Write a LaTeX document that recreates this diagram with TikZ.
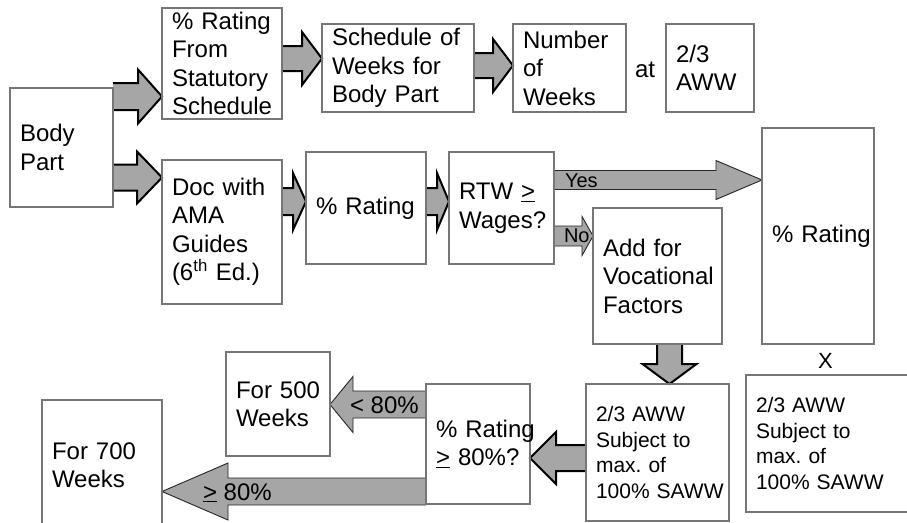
\documentclass[tikz,border=0pt]{standalone}
\usepackage{fontspec}
\setmainfont{Liberation Sans}
\usetikzlibrary{calc}

\definecolor{arrowfill}{RGB}{166,166,166}
\definecolor{boxline}{RGB}{118,118,118}

\hyphenpenalty=10000
\exhyphenpenalty=10000
\frenchspacing

\newcommand\bigfont{\fontsize{24}{28.5}\selectfont}
\newcommand\midfont{\fontsize{21}{25.5}\selectfont}
\newcommand\smallfont{\fontsize{20}{24}\selectfont}

\pgfdeclarelayer{arrows}
\pgfsetlayers{arrows,main}

% Horizontal block arrow.
% #1 outline style, #2 tail point, #3 tip point (only its x is used),
% #4 half shaft width, #5 half head width, #6 head length
\newcommand\harrow[6]{%
  \fill[arrowfill] let \p1=#2, \p2=#3, \n1={2*(\x2>\x1)-1} in
    (\x1,{\y1+#4}) -- ({\x2-\n1*#6},{\y1+#4}) -- ({\x2-\n1*#6},{\y1+#5})
    -- (\x2,\y1) -- ({\x2-\n1*#6},{\y1-#5}) -- ({\x2-\n1*#6},{\y1-#4})
    -- (\x1,{\y1-#4}) -- cycle;
  \draw[#1] let \p1=#2, \p2=#3, \n1={2*(\x2>\x1)-1} in
    (\x1,{\y1+#4}) -- ({\x2-\n1*#6},{\y1+#4}) -- ({\x2-\n1*#6},{\y1+#5})
    -- (\x2,\y1) -- ({\x2-\n1*#6},{\y1-#5}) -- ({\x2-\n1*#6},{\y1-#4})
    -- (\x1,{\y1-#4});
}
% Vertical block arrow, same arguments (tip: only its y is used)
\newcommand\varrow[6]{%
  \fill[arrowfill] let \p1=#2, \p2=#3, \n1={2*(\y2>\y1)-1} in
    ({\x1+#4},\y1) -- ({\x1+#4},{\y2-\n1*#6}) -- ({\x1+#5},{\y2-\n1*#6})
    -- (\x1,\y2) -- ({\x1-#5},{\y2-\n1*#6}) -- ({\x1-#4},{\y2-\n1*#6})
    -- ({\x1-#4},\y1) -- cycle;
  \draw[#1] let \p1=#2, \p2=#3, \n1={2*(\y2>\y1)-1} in
    ({\x1+#4},\y1) -- ({\x1+#4},{\y2-\n1*#6}) -- ({\x1+#5},{\y2-\n1*#6})
    -- (\x1,\y2) -- ({\x1-#5},{\y2-\n1*#6}) -- ({\x1-#4},{\y2-\n1*#6})
    -- ({\x1-#4},\y1);
}

\tikzset{
  box/.style={draw=boxline, line width=1.1pt, inner xsep=10pt, inner ysep=0pt,
    outer sep=0pt, anchor=north west, align=left, font=\bigfont},
  lbl/.style={anchor=base west, inner sep=0pt, outer sep=0pt},
  thickarrow/.style={draw=black, line width=2pt, line join=miter},
  thinarrow/.style={draw=black!85, line width=0.9pt, line join=miter},
}

\begin{document}
\begin{tikzpicture}[x=1pt, y=-1pt]
\useasboundingbox (0,0) rectangle (907,522);
\clip (0,0) rectangle (907,522);

% boxes
\node[box, text width=83pt,  minimum height=119pt] (body)  at (10,88)   {Body\\Part};
\node[box, text width=100pt, minimum height=111pt] (stat)  at (162,8)   {\%~Rating\\From\\Statutory\\Schedule};
\node[box, text width=132pt, minimum height=88pt]  (sched) at (322,24)  {Schedule~of\\Weeks~for\\Body~Part};
\node[box, text width=93pt,  minimum height=88pt]  (num)   at (513,24)  {Number\\of\\Weeks};
\node[box, text width=68pt,  minimum height=88pt]  (awwa)  at (666,24)  {2/3\\AWW};
\node[box, text width=100pt, minimum height=144pt] (doc)   at (162,160) {Doc~with\\AMA\\Guides\\(6\textsuperscript{th}~Ed.)};
\node[box, text width=100pt, minimum height=112pt] (rate1) at (306,152) {\%~Rating};
\node[box, text width=85pt,  minimum height=112pt] (rtw)   at (449,152) {RTW~\underline{>}\\Wages?};
\node[box, text width=109pt, minimum height=136pt] (voc)   at (593,208) {Add~for\\Vocational\\Factors};
\node[box, text width=92pt,  minimum height=216pt] (rate2) at (762,128) {\%~Rating};
\node[box, font=\midfont, text width=123pt, minimum height=137pt] (awwb) at (586,384) {2/3~AWW\\Subject~to\\max.~of\\100\%~SAWW};
\node[box, font=\midfont, text width=144pt, minimum height=137pt] (awwc) at (746,375) {2/3~AWW\\Subject~to\\max.~of\\100\%~SAWW};
\node[box, text width=84pt,  minimum height=120pt] (r80)   at (426,384) {\%~Rating\\\underline{>}~80\%?};
\node[box, text width=84pt,  minimum height=104pt] (w500)  at (226,352) {For~500\\Weeks};
\node[box, text width=100pt, minimum height=130pt] (w700)  at (42,400)  {For~700\\Weeks};

% free labels
\node[lbl, font=\bigfont] (at) at (635,77) {at};
\node[lbl, font=\fontsize{22}{26}\selectfont] (times) at (818,368) {X};
\node[lbl, font=\smallfont] (yes) at (565,187) {Yes};
\node[lbl, font=\smallfont] (no) at (564,242) {No};
\node[lbl, font=\bigfont] (lt80) at (350,413) {<~80\%};
\node[lbl, font=\bigfont] (ge80) at (203,500) {\underline{>}~80\%};

% block arrows
\begin{pgfonlayer}{arrows}
\harrow{thickarrow}{(body.east |- 0,96.5)}{(stat.west |- 0,96.5)}{13.5pt}{27pt}{24pt}
\harrow{thickarrow}{(body.east |- 0,177.5)}{(doc.west |- 0,177.5)}{13pt}{26pt}{25pt}
\harrow{thickarrow}{(stat.east |- 0,58.5)}{(sched.west |- 0,58.5)}{12.5pt}{26.5pt}{20pt}
\harrow{thickarrow}{(sched.east |- 0,65.5)}{(num.west |- 0,65.5)}{12.5pt}{26.5pt}{20pt}
\harrow{thickarrow}{(doc.east |- 0,201.5)}{(rate1.west |- 0,201.5)}{13.5pt}{28.5pt}{13pt}
\harrow{thickarrow}{(rate1.east |- 0,201.5)}{(rtw.west |- 0,201.5)}{13.5pt}{28.5pt}{12pt}
\harrow{thinarrow}{(rtw.east |- 0,180)}{(rate2.west |- 0,180)}{9.5pt}{19.5pt}{46pt}
\harrow{thinarrow}{(rtw.east |- 0,236)}{(voc.west |- 0,236)}{10pt}{19.5pt}{11pt}
\varrow{thickarrow}{(voc.south -| 669.5,0)}{(awwb.north -| 669.5,0)}{12.5pt}{27pt}{20pt}
\harrow{thickarrow}{(awwb.west |- 0,458)}{(r80.east |- 0,458)}{13pt}{26pt}{26pt}
\harrow{thinarrow}{(r80.west |- 0,404.5)}{(w500.east |- 0,404.5)}{13.5pt}{28pt}{23pt}
\harrow{thinarrow}{(r80.west |- 0,491.5)}{(w700.east |- 0,491.5)}{13.5pt}{28.5pt}{66pt}
\end{pgfonlayer}
\end{tikzpicture}
\end{document}
